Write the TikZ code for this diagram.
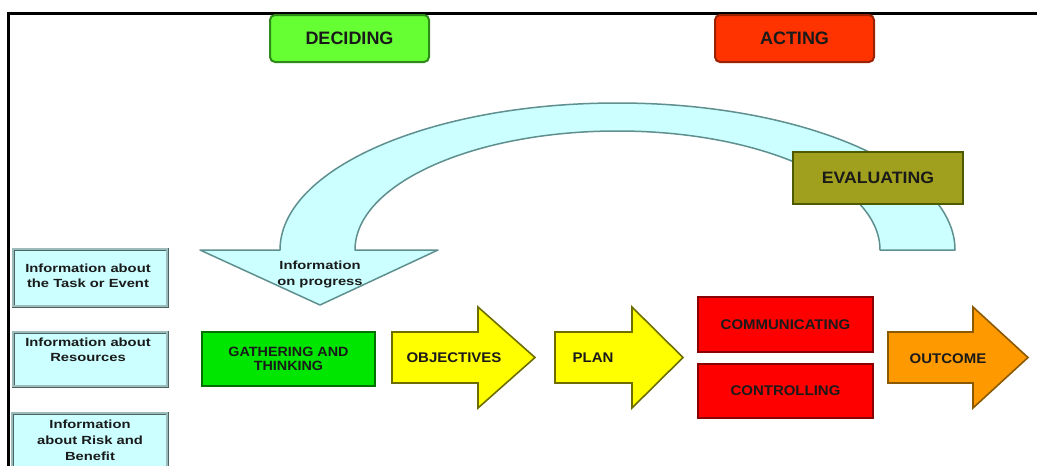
\documentclass[tikz,border=0pt]{standalone}
\usepackage{fontspec}
\setmainfont{Liberation Sans}
\newfontfamily\fA{Liberation Sans}[FakeStretch=1.25]
\newfontfamily\fB{Liberation Sans}[FakeStretch=1.07]
\definecolor{cyanfill}{HTML}{CCFFFF}
\definecolor{cyanline}{HTML}{5F8F8F}
\definecolor{infoline}{HTML}{4A6464}
\definecolor{infoinner}{HTML}{9CBCBC}
\definecolor{decfill}{HTML}{66FF33}
\definecolor{decline}{HTML}{2E8B1A}
\definecolor{actfill}{HTML}{FF3300}
\definecolor{actline}{HTML}{9A2200}
\definecolor{evfill}{HTML}{A0A01E}
\definecolor{evline}{HTML}{4D5A00}
\definecolor{gatfill}{HTML}{00E600}
\definecolor{gatline}{HTML}{007000}
\definecolor{yelfill}{HTML}{FFFF00}
\definecolor{yelline}{HTML}{6E6E00}
\definecolor{redfill}{HTML}{FF0000}
\definecolor{redline}{HTML}{8B0000}
\definecolor{orafill}{HTML}{FF9900}
\definecolor{oraline}{HTML}{8B5A00}
\definecolor{txt}{HTML}{1A1A1A}
\newcommand{\blockarr}[5]{%
  \draw[#1] (#2,#5-25.5) -- (#3,#5-25.5) -- (#3,#5-50.5) -- (#4,#5)
    -- (#3,#5+50.5) -- (#3,#5+25.5) -- (#2,#5+25.5) -- cycle;}
\begin{document}
\begin{tikzpicture}[x=1pt,y=-1pt,
  topbox/.style={rounded corners=5pt, line width=2pt, inner sep=0pt, text=txt,
    font=\bfseries\fontsize{18}{20}\selectfont},
  capbox/.style={line width=2pt, inner sep=0pt, text=txt,
    font=\fB\bfseries\fontsize{14}{15}\selectfont},
  caplbl/.style={inner sep=0pt, text=txt, font=\fB\bfseries\fontsize{14}{15}\selectfont},
  infobox/.style={draw=infoline, line width=0.9pt, double=infoinner, double distance=1.2pt,
    fill=cyanfill, inner sep=0pt},
  infotxt/.style={inner sep=0pt, align=center, text=txt,
    font=\fA\bfseries\fontsize{11.8}{15.8}\selectfont},
  bigarrow/.style={fill=cyanfill, draw=cyanline, line width=1.5pt, line join=round},
  yelarrow/.style={fill=yelfill, draw=yelline, line width=1.6pt, line join=miter},
  oraarrow/.style={fill=orafill, draw=oraline, line width=1.6pt, line join=miter}]
\useasboundingbox (0,0) rectangle (1037,466);
\fill[white] (0,0) rectangle (1037,466);
% frame
\draw[line width=3pt, line join=miter] (1037,13) -- (8,13) -- (8,466);
% top headers
\node[topbox, fill=decfill, draw=decline, minimum width=159, minimum height=47] (deciding) at (349.5,38.5) {DECIDING};
\node[topbox, fill=actfill, draw=actline, minimum width=159, minimum height=47] (acting) at (794.5,38.5) {ACTING};
% curved feedback arrow
\draw[bigarrow] (955,250) arc[start angle=0, end angle=-180, x radius=337.5, y radius=147]
  -- (200,250) -- (320,305) -- (438,250) -- (355,250)
  arc[start angle=-180, end angle=0, x radius=262.5, y radius=119] -- cycle;
\node[infotxt] (progress) at (320,274.5) {Information\\on progress};
% evaluating
\node[capbox, fill=evfill, draw=evline, minimum width=170, minimum height=52,
  font=\fB\bfseries\fontsize{16.5}{18}\selectfont] (evaluating) at (878,178) {EVALUATING};
% information boxes
\node[infobox, minimum width=154, minimum height=57] (info1) at (90,277.5) {};
\node[infotxt] (info1t) at (88,275.7) {Information about\\the Task or Event};
\node[infobox, minimum width=154, minimum height=54] (info2) at (90,359) {};
\node[infotxt] (info2t) at (88,349.7) {Information about\\Resources};
\begin{scope}
\clip (0,0) rectangle (1037,466);
\node[infobox, minimum width=155, minimum height=64] (info3) at (89.5,445) {};
\end{scope}
\node[infotxt] (info3t) at (90,440.2) {Information\\about Risk and\\Benefit};
% gathering
\node[capbox, fill=gatfill, draw=gatline, minimum width=173, minimum height=54, align=center,
  font=\fB\bfseries\fontsize{13.4}{14.5}\selectfont] (gathering) at (288.5,359) {GATHERING AND\\THINKING};
% block arrows
\blockarr{yelarrow}{392}{478}{535}{357.5}
\node[caplbl] (objectives) at (454,358) {OBJECTIVES};
\blockarr{yelarrow}{555}{632}{683}{357.5}
\node[caplbl] (plan) at (593,358) {PLAN};
\node[capbox, fill=redfill, draw=redline, minimum width=175, minimum height=55] (communicating) at (785.5,324.5) {COMMUNICATING};
\node[capbox, fill=redfill, draw=redline, minimum width=175, minimum height=54] (controlling) at (785.5,391) {CONTROLLING};
\blockarr{oraarrow}{888}{973}{1028}{357.5}
\node[caplbl] (outcome) at (948,359) {OUTCOME};
\end{tikzpicture}
\end{document}
